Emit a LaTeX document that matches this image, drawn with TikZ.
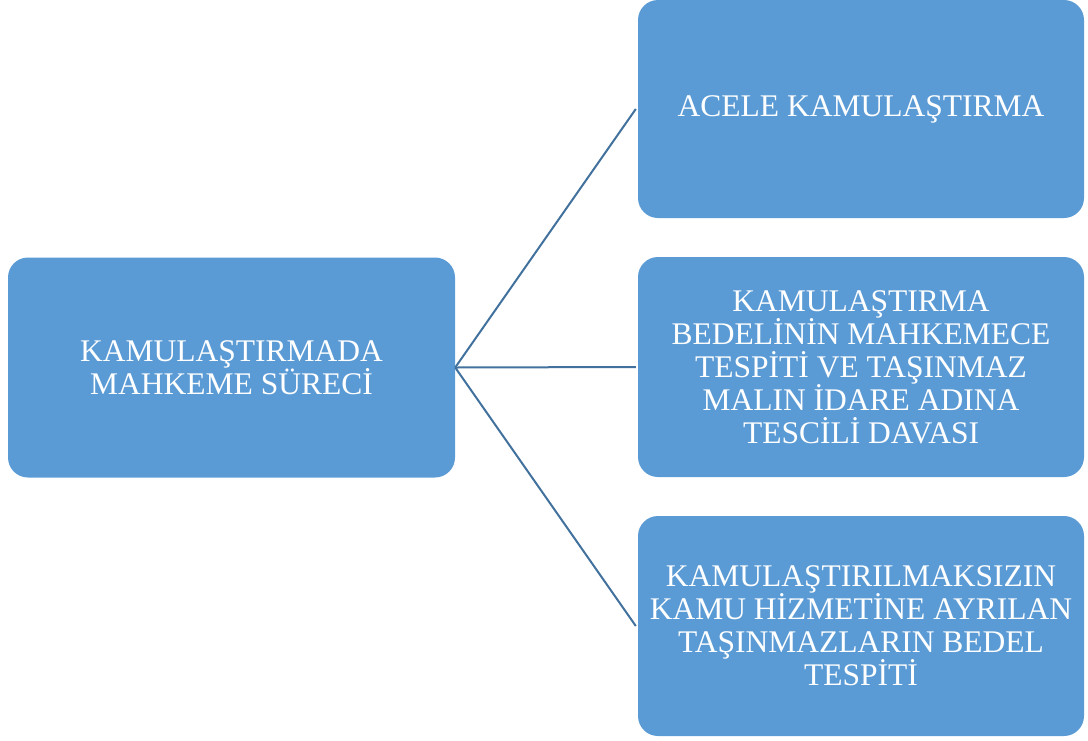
\documentclass[tikz,border=0pt]{standalone}
\usepackage{fontspec}
\setmainfont{Liberation Serif}
\definecolor{boxfill}{HTML}{5B9BD5}
\definecolor{linkcol}{HTML}{41719C}
\begin{document}
\begin{tikzpicture}[x=1pt,y=-1pt,
        box/.style={rectangle, rounded corners=20pt, fill=boxfill, draw=none,
            minimum width=446pt, minimum height=220pt, inner sep=0pt,
            align=center, text=white,
            font=\fontsize{31.5}{33}\selectfont},
        link/.style={draw=linkcol, line width=2pt}]
        \useasboundingbox (0, 0) rectangle (1088, 740);

        \node[box, minimum width=447pt] (main) at (231.5, 367.5) {KAMULAŞTIRMADA\\MAHKEME SÜRECİ};
        \node[box, minimum height=218pt] (acele) at (861, 109) {ACELE KAMULAŞTIRMA};
        \node[box] (tescil) at (861, 367) {KAMULAŞTIRMA\\BEDELİNİN MAHKEMECE\\TESPİTİ VE TAŞINMAZ\\MALIN İDARE ADINA\\TESCİLİ DAVASI};
        \node[box] (bedel) at (861, 626) {KAMULAŞTIRILMAKSIZIN\\KAMU HİZMETİNE AYRILAN\\TAŞINMAZLARIN BEDEL\\TESPİTİ};

        \draw[link] (main.east) -- ([xshift=-2pt]acele.west);
        \draw[link] (main.east) -- ([xshift=-2pt]tescil.west);
        \draw[link] (main.east) -- ([xshift=-2pt]bedel.west);

    \end{tikzpicture}
\end{document}
